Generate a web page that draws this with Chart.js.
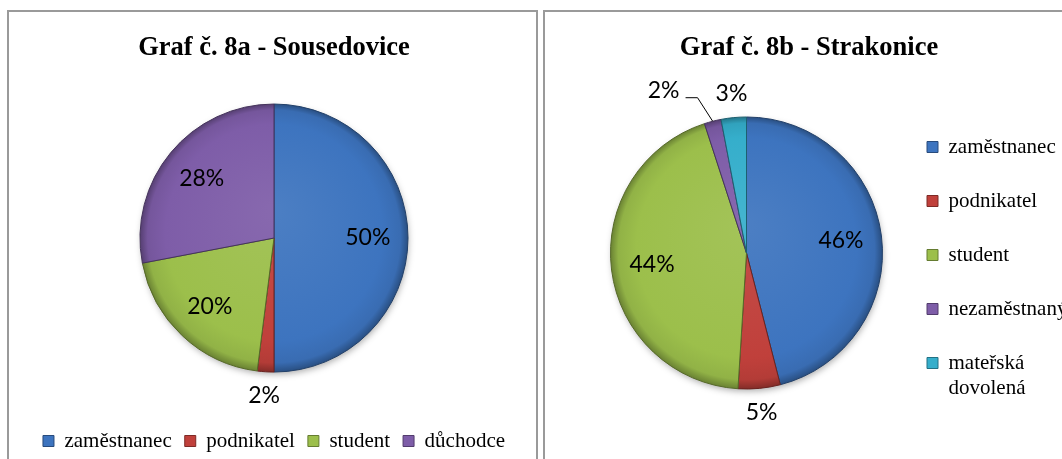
<!DOCTYPE html>
<html>
<head>
<meta charset="utf-8">
<script src="https://cdn.jsdelivr.net/npm/chart.js@4.4.1/dist/chart.umd.min.js"></script>
<style>
html,body{margin:0;padding:0;background:#fff;width:1062px;height:459px;overflow:hidden;position:relative}
.panel{position:absolute;border:2px solid #9a9a9a;box-sizing:border-box;background:#fff}
#pA{left:7px;top:10px;width:531px;height:470px}
#pB{left:543px;top:10px;width:560px;height:470px}
.wrap{position:absolute}
#wA{left:10px;top:13px;width:525px;height:449px}
#wB{left:546px;top:13px;width:516px;height:446px}
</style>
</head>
<body>
<div class="panel" id="pA"></div>
<div class="panel" id="pB"></div>
<div class="wrap" id="wA"><canvas id="cA"></canvas></div>
<div class="wrap" id="wB"><canvas id="cB"></canvas></div>
<script>
// ---- data ----
const titleA = 'Graf č. 8a - Sousedovice';
const labelsA = ['zaměstnanec', 'podnikatel', 'student', 'důchodce'];
const valuesA = [50, 2, 20, 28];

const titleB = 'Graf č. 8b - Strakonice';
const labelsB = ['zaměstnanec', 'podnikatel', 'student', 'nezaměstnaný', ['mateřská', 'dovolená']];
const valuesB = [46, 5, 44, 2, 3];

// ---- colours ----
const colorsA = ['#3D74BF', '#C0403B', '#9CBF4B', '#7E5DA8'];
const colorsB = ['#3D74BF', '#C0403B', '#9CBF4B', '#7E5DA8', '#35AECB'];

const SERIF = '"Liberation Serif", "Times New Roman", serif';

function mix(hex, amt) {
  const n = parseInt(hex.slice(1), 16);
  let r = n >> 16, g = (n >> 8) & 255, b = n & 255;
  const t = amt < 0 ? 0 : 255, p = Math.abs(amt);
  r = Math.round(r + (t - r) * p);
  g = Math.round(g + (t - g) * p);
  b = Math.round(b + (t - b) * p);
  return 'rgb(' + r + ',' + g + ',' + b + ')';
}

function sliceFill(colors) {
  return (c) => {
    const base = colors[c.dataIndex % colors.length];
    const chart = c.chart, a = chart.chartArea;
    if (!a || c.type !== 'data') return base;
    const r = c.dataset.radius;
    const cx = (a.left + a.right) / 2, cy = (a.top + a.bottom) / 2;
    const g = chart.ctx.createRadialGradient(cx, cy - r * 0.2, r * 0.05, cx, cy, r);
    g.addColorStop(0, mix(base, 0.07));
    g.addColorStop(0.8, base);
    g.addColorStop(0.94, mix(base, -0.07));
    g.addColorStop(1, mix(base, -0.32));
    return g;
  };
}

function makeLegendLabels(colors) {
  return function (chart) {
    const base = (Chart.overrides.doughnut || Chart.overrides.pie).plugins.legend.labels.generateLabels;
    const items = base(chart);
    items.forEach((it, i) => {
      it.fillStyle = colors[i];
      it.strokeStyle = mix(colors[i], -0.35);
      it.lineWidth = 1;
    });
    return items;
  };
}

// soft shadow under the pie, from the arc geometry computed by Chart.js
const pieShadow = {
  id: 'pieShadow',
  beforeDatasetsDraw(chart) {
    const arc = chart.getDatasetMeta(0).data[0];
    if (!arc) return;
    const ctx = chart.ctx;
    ctx.save();
    ctx.shadowColor = 'rgba(0,0,0,0.35)';
    ctx.shadowBlur = 7;
    ctx.shadowOffsetX = 1;
    ctx.shadowOffsetY = 3;
    ctx.fillStyle = '#fff';
    ctx.beginPath();
    ctx.arc(arc.x, arc.y, arc.outerRadius - 1, 0, Math.PI * 2);
    ctx.fill();
    ctx.restore();
  }
};

// percentage labels drawn from the arc geometry computed by Chart.js
const pctLabels = {
  id: 'pctLabels',
  afterDatasetsDraw(chart, args, opts) {
    const meta = chart.getDatasetMeta(0);
    const ds = chart.data.datasets[0];
    const ctx = chart.ctx;
    ctx.save();
    ctx.font = opts.font;
    ctx.fillStyle = '#000';
    ctx.strokeStyle = '#000';
    ctx.textAlign = 'center';
    ctx.textBaseline = 'middle';
    const items = meta.data.map((arc, i) => {
      const mid = (arc.startAngle + arc.endAngle) / 2;
      const v = ds.data[i];
      const outside = v < opts.minInside;
      const d = outside ? arc.outerRadius + opts.outsideGap : arc.outerRadius * opts.insideRatio;
      const text = v + '%';
      return {
        text, outside,
        x: arc.x + Math.cos(mid) * d,
        y: arc.y + Math.sin(mid) * d,
        ax: arc.x + Math.cos(mid) * arc.outerRadius,
        ay: arc.y + Math.sin(mid) * arc.outerRadius,
        w: ctx.measureText(text).width
      };
    });
    for (let i = items.length - 2; i >= 0; i--) {
      const a = items[i], b = items[i + 1];
      if (!a.outside || !b.outside) continue;
      if (Math.abs(a.y - b.y) < 24 && a.x + a.w / 2 > b.x - b.w / 2 - 4) {
        a.x = b.x - b.w / 2 - opts.leaderGap - a.w / 2;
        a.y = b.y - 3;
        a.leader = true;
      }
    }
    items.forEach(it => {
      ctx.fillText(it.text, it.x, it.y);
      if (it.leader) {
        const sx = it.x + it.w / 2 + 6, sy = it.y + 7;
        ctx.beginPath();
        ctx.lineWidth = 1;
        ctx.moveTo(sx, sy);
        ctx.lineTo(sx + 12, sy);
        ctx.lineTo(it.ax, it.ay);
        ctx.stroke();
      }
    });
    ctx.restore();
  }
};

// title drawn at a chosen centre (used where the legend box would shift the built-in title)
const placedTitle = {
  id: 'placedTitle',
  afterDraw(chart, args, opts) {
    if (!opts.text) return;
    const ctx = chart.ctx;
    ctx.save();
    ctx.font = opts.font;
    ctx.fillStyle = '#000';
    ctx.textAlign = 'center';
    ctx.textBaseline = 'middle';
    ctx.fillText(opts.text, opts.x, opts.y);
    ctx.restore();
  }
};

function pieConfig(labels, values, colors, radius, layoutPad, titleOpts, placed, legendOpts) {
  return {
    type: 'pie',
    data: {
      labels: labels,
      datasets: [{
        data: values,
        backgroundColor: sliceFill(colors),
        borderColor: colors.map(c => mix(c, -0.45)),
        borderWidth: 1,
        radius: radius
      }]
    },
    options: {
      responsive: true,
      maintainAspectRatio: false,
      animation: false,
      events: [],
      layout: { padding: layoutPad },
      plugins: {
        title: titleOpts,
        legend: Object.assign({}, legendOpts, {
          labels: Object.assign({
            font: { family: SERIF, size: 21 },
            color: '#000',
            boxWidth: 11, boxHeight: 11,
            generateLabels: makeLegendLabels(colors)
          }, legendOpts.labels)
        }),
        tooltip: { enabled: false },
        pctLabels: { font: '23px Lato', insideRatio: 0.7, outsideGap: 24, minInside: 10, leaderGap: 36 },
        placedTitle: placed
      }
    },
    plugins: [pieShadow, pctLabels, placedTitle]
  };
}

new Chart(document.getElementById('cA'), pieConfig(
  labelsA, valuesA, colorsA, 134,
  { left: 3, right: 0, top: 0, bottom: 0.5 },
  {
    display: true, text: titleA, color: '#000',
    font: { family: SERIF, size: 26.5, weight: 'bold', lineHeight: 0.75 },
    padding: { top: 25.6, bottom: 0.1 }
  },
  {},
  { position: 'bottom', labels: { padding: 13 } }
));

new Chart(document.getElementById('cB'), pieConfig(
  labelsB, valuesB, colorsB, 136,
  { left: 53, right: 0, top: 57.1, bottom: 23.1 },
  { display: false },
  { text: titleB, font: 'bold 26.5px ' + SERIF, x: 263, y: 35.5 },
  { position: 'right', align: 'end', maxWidth: 168, labels: { padding: 33 } }
));
</script>
</body>
</html>
